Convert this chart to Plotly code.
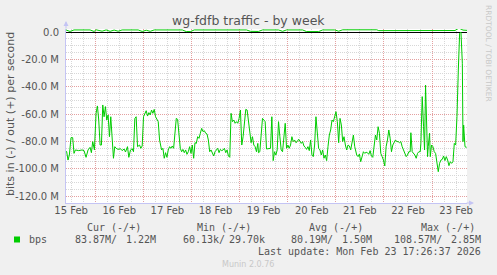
import pandas as pd
import plotly.graph_objects as go

# ---------------- data ----------------
start_time = "2026-02-15 09:26:37"
end_time = "2026-02-23 17:26:37"

# hours after start_time, inbound bits/s in M (drawn negative)
in_hours = [0.0, 0.33, 1.0, 1.67, 2.5, 3.33, 4.0, 4.67, 6.33, 8.0, 9.0, 10.0, 11.0, 12.0, 12.67, 13.33, 14.17,
            15.0, 15.67, 16.33, 17.0, 17.67, 18.33, 19.0, 19.67, 20.33, 21.0, 21.67, 22.33, 23.0, 23.67, 24.33,
            25.0, 26.0, 27.17, 28.0, 29.0, 29.67, 30.67, 31.33, 32.17, 33.0, 33.67, 34.33, 35.0, 35.67, 36.67,
            37.33, 38.0, 38.67, 39.33, 40.0, 40.67, 41.33, 42.0, 42.67, 43.33, 44.0, 44.67, 45.33, 46.0, 46.67,
            47.33, 47.67, 48.33, 49.0, 49.67, 50.33, 51.0, 51.67, 52.33, 53.0, 53.67, 54.33, 55.0, 55.67, 56.33,
            57.0, 57.67, 58.33, 59.0, 59.67, 60.33, 61.0, 61.67, 62.33, 63.0, 63.67, 64.33, 65.0, 65.67, 66.33,
            67.0, 67.67, 68.33, 69.0, 69.67, 70.33, 71.0, 71.67, 72.33, 73.0, 73.67, 74.33, 75.0, 75.67, 76.33,
            77.0, 77.67, 78.33, 79.0, 79.67, 80.33, 81.0, 81.67, 82.33, 83.0, 83.67, 84.33, 85.0, 85.67, 86.33,
            87.0, 87.67, 88.33, 89.0, 89.67, 90.33, 91.0, 91.67, 92.33, 93.0, 93.67, 94.33, 95.0, 95.67,
            96.0, 96.67, 97.33, 98.0, 98.67, 99.33, 100.0, 100.67, 101.33, 102.0, 102.67, 103.33, 104.0, 104.67,
            105.33, 106.0, 106.67, 107.33, 108.0, 108.67, 109.33, 110.0, 110.67, 111.33, 112.0, 112.67, 113.33,
            114.0, 114.67, 115.33, 116.0, 116.67, 117.33, 118.0, 118.67, 119.33, 120.0, 120.67, 121.33, 122.0,
            122.67, 123.33, 124.0, 124.67, 125.33, 126.0, 126.67, 127.33, 128.0, 128.67, 129.33, 130.0, 130.67,
            131.33, 132.0, 132.67, 133.33, 134.0, 134.67, 135.33, 136.0, 136.67, 137.33, 138.0, 138.67, 139.33,
            140.0, 140.67, 141.33, 142.0, 142.67, 143.33, 144.0, 144.67,
            145.0, 145.67, 146.33, 147.0, 147.67, 148.33, 149.0, 149.67, 150.33, 151.0, 151.67, 152.33, 153.0,
            153.67, 154.33, 155.0, 155.67, 156.33, 157.0, 157.67, 158.33, 159.0, 159.67, 160.33, 161.0, 161.67,
            162.33, 163.0, 163.67, 164.33, 165.0, 165.67, 166.33, 167.0, 167.67, 168.33, 169.0, 169.67, 170.33,
            171.0, 171.67, 172.0, 172.67, 173.33, 174.0, 174.67, 175.33, 176.0, 176.67, 177.0, 177.67, 178.33,
            178.83, 179.33, 180.0, 180.33, 180.67, 181.33, 181.67, 182.33, 183.0, 183.67, 184.33, 185.0, 185.67,
            186.33, 187.0, 187.67, 188.33, 189.0, 189.67, 190.33, 191.0, 191.67, 192.33, 193.0, 193.67, 194.33,
            195.0, 195.67, 196.33, 197.0, 197.67, 198.0, 198.33, 199.0, 199.67, 200.0]
in_mbps = [87.0, 87.6, 93.7, 90.0, 77.3, 77.3, 88.8, 86.3, 86.8, 86.3, 86.8, 91.7, 86.3, 84.4, 88.3, 80.2, 86.3,
           59.5, 54.1, 64.4, 82.7, 82.7, 53.4, 62.0, 54.6, 64.4, 60.7, 76.6, 62.0, 74.1, 92.4, 83.9,
           85.1, 85.9, 85.4, 86.8, 85.6, 87.8, 83.9, 91.7, 86.3, 85.4, 87.6, 63.2, 62.0, 83.9, 82.7,
           85.1, 83.4, 62.0, 59.5, 57.6, 61.5, 59.0, 60.7, 57.1, 59.5, 56.6, 62.0, 64.4, 65.6, 79.0,
           86.3, 86.3, 85.1, 92.4, 88.3, 91.7, 86.3, 83.9, 85.1, 83.4, 85.1, 76.6, 63.2, 63.9, 76.6,
           85.1, 87.6, 85.9, 88.3, 86.3, 89.5, 87.6, 83.9, 88.8, 82.7, 92.4, 81.0, 81.5, 76.6, 77.8,
           74.1, 70.5, 72.9, 72.2, 74.1, 74.6, 79.0, 87.6, 86.3, 89.3, 90.7, 87.6, 86.3, 85.1, 88.3,
           85.9, 86.8, 86.3, 85.1, 88.3, 86.3, 90.7, 91.7, 59.5, 65.6, 64.4, 66.8, 65.6, 66.8, 63.2,
           57.1, 82.7, 76.6, 64.4, 56.6, 57.1, 66.8, 71.7, 81.0, 76.6, 82.7, 83.9, 87.6, 81.5,
           88.3, 87.6, 76.6, 63.2, 64.4, 65.6, 85.6, 85.6, 85.6, 85.1, 62.0, 94.1, 87.6, 90.0,
           86.3, 65.6, 76.6, 86.3, 87.6, 77.8, 66.8, 85.1, 82.7, 85.1, 82.7, 76.6, 80.2,
           79.0, 81.0, 80.2, 78.5, 79.8, 81.5, 80.2, 83.4, 84.4, 85.9, 83.9, 86.8, 79.0,
           90.0, 91.2, 82.7, 62.0, 71.7, 85.1, 86.3, 90.0, 86.3, 92.4, 90.0, 94.1, 83.9,
           75.4, 71.7, 64.4, 65.6, 60.7, 58.3, 65.6, 81.0, 63.2, 68.0, 80.2, 76.6, 82.7,
           86.3, 82.7, 83.4, 86.3, 80.2, 75.4, 83.9, 87.6,
           90.0, 91.2, 89.3, 94.9, 90.7, 87.6, 88.8, 88.0, 88.3, 89.5, 86.8, 90.7, 91.7,
           85.1, 75.4, 79.0, 69.3, 74.1, 88.8, 91.2, 93.7, 98.0, 83.9, 79.0, 71.7, 77.8,
           87.6, 82.7, 80.2, 79.0, 80.2, 80.2, 81.0, 80.2, 83.9, 86.3, 88.3, 91.2, 90.0,
           87.6, 87.6, 73.7, 87.6, 88.8, 90.0, 92.4, 88.8, 87.6, 87.6, 81.5, 47.3, 69.3,
           86.3, 38.8, 64.4, 91.2, 83.9, 74.1, 91.2, 82.7, 83.9, 87.6, 88.8, 96.1, 102.2,
           96.1, 93.7, 93.2, 90.7, 94.1, 91.2, 93.7, 97.8, 94.9, 96.1, 94.9, 81.5, 82.7,
           61.9, 27.8, 0.9, 0.06, 22.9, 80.2, 68.1, 83.9, 84.4, 83.87]

# hours after start_time, outbound bits/s in M (drawn positive)
out_hours = [0, 2, 4, 12, 14, 15, 18, 20, 22, 24, 26, 28, 36, 38, 40, 42, 44, 58, 60, 62, 64, 80, 82, 84,
             90, 92, 96, 98, 106, 108, 110, 118, 120, 126, 128, 134, 136, 138, 155, 156, 178, 180, 184, 186,
             190, 192, 194, 196, 198, 200]
out_mbps = [1.5, 0.4, 1.5, 1.5, 0.4, 1.6, 0.6, 1.5, 0.5, 1.4, 0.6, 1.5, 1.5, 0.4, 1.3, 0.5, 1.5, 1.5, 0.3,
            0.3, 1.5, 1.5, 1.6, 1.4, 1.5, 0.5, 0.4, 1.5, 1.5, 0.5, 1.5, 1.5, 0.3, 0.3, 1.5, 1.5, 0.6, 1.6,
            1.6, 1.0, 1.0, 0.8, 1.2, 0.8, 1.3, 0.9, 1.1, 2.85, 1.4, 1.22]

y_ticks = [0, -20, -40, -60, -80, -100, -120]
y_ticktext = ["0.0", "-20.0 M", "-40.0 M", "-60.0 M", "-80.0 M", "-100.0 M", "-120.0 M"]

legend_headers = ["Cur (-/+)", "Min (-/+)", "Avg (-/+)", "Max (-/+)"]
legend_in = ["83.87M/", "60.13k/", "80.19M/", "108.57M/"]
legend_out = ["1.22M", "29.70k", "1.50M", "2.85M"]
series_name = "bps"
last_update = "Last update: Mon Feb 23 17:26:37 2026"

# ---------------- figure ----------------
W, H = 497, 275
L, R, T, B = 66, 467, 29, 203
GREEN = "#00cc00"
TXT = "#555555"
AXIS = "#c4c4f4"
MGRID = "rgb(228,160,160)"
GRID = "rgb(215,215,215)"

t0 = pd.Timestamp(start_time)
in_x = [t0 + pd.Timedelta(hours=h) for h in in_hours]
out_x = [t0 + pd.Timedelta(hours=h) for h in out_hours]
in_y = [-v for v in in_mbps]


def px(x):
    return (x - L) / (R - L)


def py(y):
    return (B - y) / (B - T)


fig = go.Figure()
fig.add_trace(go.Scatter(x=in_x, y=in_y, mode="lines", line=dict(color=GREEN, width=1),
                         hoverinfo="skip", showlegend=False))
fig.add_trace(go.Scatter(x=out_x, y=out_mbps, mode="lines", line=dict(color=GREEN, width=1),
                         xaxis="x2", hoverinfo="skip", showlegend=False))

fig.update_layout(
    width=W, height=H,
    margin=dict(l=L, r=W - R, t=T, b=H - B, pad=0),
    paper_bgcolor="#f0f0f0", plot_bgcolor="#ffffff",
    showlegend=False,
    font=dict(family="DejaVu Sans", size=10, color=TXT),
    xaxis=dict(
        type="date", range=[start_time, end_time],
        tick0="2026-02-15 00:00:00", dtick=86400000,
        showticklabels=False, ticks="",
        showgrid=True, gridcolor=MGRID, griddash="1px,1px", gridwidth=1,
        minor=dict(tick0="2026-02-15 00:00:00", dtick=6 * 3600000, showgrid=True,
                   gridcolor=GRID, griddash="1px,1px", gridwidth=1),
        showline=True, linecolor=AXIS, linewidth=1, zeroline=False,
    ),
    xaxis2=dict(
        type="date", range=[start_time, end_time], overlaying="x", side="bottom",
        tick0="2026-02-15 12:00:00", dtick=86400000, tickformat="%d %b",
        showgrid=False, ticks="", showline=False, zeroline=False,
        tickfont=dict(family="DejaVu Sans", size=10, color=TXT),
    ),
    yaxis=dict(
        range=[-(B - 32) / 1.3667, (32 - T) / 1.3667],
        tickvals=y_ticks, ticktext=y_ticktext, ticks="",
        tickfont=dict(family="DejaVu Sans", size=10, color=TXT),
        ticklabelstandoff=4,
        showgrid=True, gridcolor=MGRID, griddash="1px,1px", gridwidth=1,
        minor=dict(dtick=5, showgrid=True, gridcolor=GRID, griddash="1px,1px", gridwidth=1),
        zeroline=True, zerolinecolor="#000000", zerolinewidth=1,
        showline=True, linecolor=AXIS, linewidth=1,
    ),
)

ann = []
# title
ann.append(dict(text="wg-fdfb traffic - by week", x=px(248.5), y=py(20), xref="paper", yref="paper",
                showarrow=False, xanchor="center", yanchor="middle",
                font=dict(family="DejaVu Sans", size=12.5, color=TXT)))
# y axis title
ann.append(dict(text="bits in (-) / out (+) per second", x=px(10), y=py(114), xref="paper", yref="paper",
                showarrow=False, xanchor="center", yanchor="middle", textangle=-90,
                font=dict(family="DejaVu Sans", size=11, color=TXT)))
# watermark
ann.append(dict(text="RRDTOOL / TOBI OETIKER", x=px(488.5), y=py(53.5), xref="paper", yref="paper",
                showarrow=False, xanchor="center", yanchor="middle", textangle=90,
                font=dict(family="DejaVu Sans", size=7.5, color="#c8c8c8")))
# axis arrows
ann.append(dict(x=px(474), y=py(B), ax=-9, ay=0, xref="paper", yref="paper", text="",
                showarrow=True, arrowhead=2, arrowsize=1, arrowwidth=1, arrowcolor=AXIS))
ann.append(dict(x=px(L), y=py(21), ax=0, ay=9, xref="paper", yref="paper", text="",
                showarrow=True, arrowhead=2, arrowsize=1, arrowwidth=1, arrowcolor=AXIS))

mono = dict(family="DejaVu Sans Mono", size=10, color=TXT)
header_right = [142.7, 253.3, 365, 476.7]
in_left = [72.7, 180.7, 289, 391.7]
out_right = [158.3, 266.7, 374, 482.7]
for i in range(4):
    ann.append(dict(text=legend_headers[i].replace(" ", "&nbsp;"), x=px(header_right[i]), y=py(227.5),
                    xref="paper", yref="paper", showarrow=False, xanchor="right", yanchor="middle", font=mono))
    ann.append(dict(text=legend_in[i], x=px(in_left[i]), y=py(239.5), xref="paper", yref="paper",
                    showarrow=False, xanchor="left", yanchor="middle", font=mono))
    ann.append(dict(text=legend_out[i], x=px(out_right[i]), y=py(239.5), xref="paper", yref="paper",
                    showarrow=False, xanchor="right", yanchor="middle", font=mono))
ann.append(dict(text=series_name, x=px(26.7), y=py(239.5), xref="paper", yref="paper",
                showarrow=False, xanchor="left", yanchor="middle", font=mono))
ann.append(dict(text=last_update.replace(" ", "&nbsp;"), x=px(482.7), y=py(251), xref="paper", yref="paper",
                showarrow=False, xanchor="right", yanchor="middle", font=mono))
ann.append(dict(text="Munin 2.0.76", x=px(248), y=py(264.5), xref="paper", yref="paper",
                showarrow=False, xanchor="center", yanchor="middle",
                font=dict(family="DejaVu Sans", size=8, color="#c8c8c8")))
fig.update_layout(annotations=ann)

# legend swatch
fig.add_shape(type="rect", xref="paper", yref="paper", x0=px(14), x1=px(20), y0=py(242.5), y1=py(236.5),
              fillcolor=GREEN, line=dict(width=0))

fig.write_html("out.html")
